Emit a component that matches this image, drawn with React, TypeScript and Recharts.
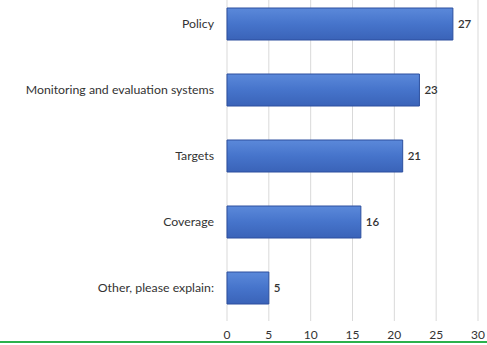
import React from "react"
import { Bar, BarChart, CartesianGrid, XAxis, YAxis, LabelList } from "recharts"

const categories = [
  "Policy",
  "Monitoring and evaluation systems",
  "Targets",
  "Coverage",
  "Other, please explain:",
]
const counts = [27, 23, 21, 16, 5]
const xTicks = [0, 5, 10, 15, 20, 25, 30]

const data = categories.map((name, i) => ({ name, count: counts[i] }))

const FONT = "Lato, 'Open Sans', sans-serif"

export default function App() {
  return (
    <div
      style={{
        position: "fixed",
        left: 0,
        top: 0,
        width: 487,
        height: 345,
        overflow: "hidden",
        background: "#fff",
      }}
    >
      <div style={{ marginTop: -9 }}>
        <BarChart
          layout="vertical"
          width={487}
          height={354}
          data={data}
          margin={{ top: 0, right: 9, left: 0, bottom: 0 }}
          barSize={32}
        >
          <defs>
            <linearGradient id="barFill" x1="0" y1="0" x2="0" y2="1">
              <stop offset="0%" stopColor="#5b89da" />
              <stop offset="50%" stopColor="#4674cb" />
              <stop offset="100%" stopColor="#3a63b8" />
            </linearGradient>
          </defs>
          <CartesianGrid horizontal={false} stroke="#d9d9d9" strokeWidth={1} />
          <XAxis
            type="number"
            domain={[0, 30]}
            ticks={xTicks}
            axisLine={false}
            tickLine={false}
            tickSize={0}
            tickMargin={9}
            height={24}
            tick={{ fill: "#333", fontSize: 12, fontFamily: FONT }}
          />
          <YAxis
            type="category"
            dataKey="name"
            width={227}
            axisLine={false}
            tickLine={false}
            tickSize={0}
            tickMargin={13}
            tick={{ fill: "#333", fontSize: 12.3, fontFamily: FONT }}
          />
          <Bar
            dataKey="count"
            fill="url(#barFill)"
            stroke="#2c4f9e"
            strokeWidth={1}
            isAnimationActive={false}
          >
            <LabelList
              dataKey="count"
              position="right"
              offset={5}
              style={{ fill: "#333", fontSize: 11.5, fontFamily: FONT, fontWeight: 600 }}
            />
          </Bar>
        </BarChart>
      </div>
      <div
        style={{
          position: "absolute",
          left: 0,
          top: 341,
          width: 487,
          height: 2,
          background: "#2bb24c",
        }}
      />
    </div>
  )
}
